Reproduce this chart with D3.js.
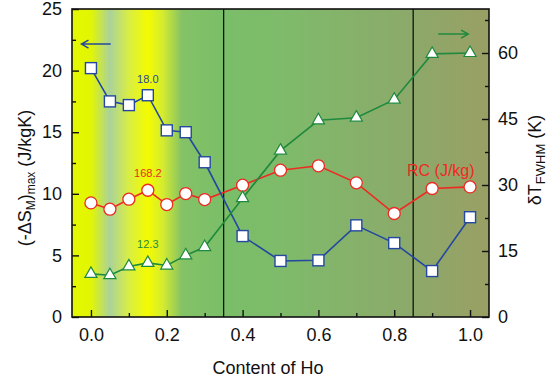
<!DOCTYPE html>
<html><head><meta charset="utf-8">
<script src="https://cdn.jsdelivr.net/npm/d3@7"></script>
<style>
html,body{margin:0;padding:0;background:#fff;}
text{font-family:"Liberation Sans",Arial,Helvetica,sans-serif;}
</style></head>
<body>
<svg id="c" width="551" height="382"></svg>
<script>
// ---- data ----
const hoContent = [0, 0.05, 0.1, 0.15, 0.2, 0.25, 0.3, 0.4, 0.5, 0.6, 0.7, 0.8, 0.9, 1.0];
const deltaSM = [20.2, 17.5, 17.2, 18.0, 15.15, 15.0, 12.56, 6.57, 4.55, 4.6, 7.44, 6.0, 3.73, 8.1];
const rcValues = [151.4, 143.0, 156.3, 168.2, 149.2, 163.8, 155.8, 174.9, 194.8, 200.6, 178.0, 137.3, 170.5, 172.6];
const deltaTFWHM = [9.8, 9.5, 11.5, 12.3, 11.7, 14.0, 15.9, 27.0, 37.8, 44.7, 45.3, 49.4, 59.8, 60.0];
const xTicks = [0, 0.2, 0.4, 0.6, 0.8, 1.0];
const xMinorTicks = [0.1, 0.3, 0.5, 0.7, 0.9];
const leftTicks = [0, 5, 10, 15, 20, 25];
const leftMinor = [2.5, 7.5, 12.5, 17.5, 22.5];
const rightTicks = [0, 15, 30, 45, 60];
const rightMinor = [7.5, 22.5, 37.5, 52.5, 67.5];
const phaseBoundaries = [0.35, 0.85];
const bgStops = [
  [-0.05, "#e4f800"], [0.0, "#e2f604"], [0.05, "#aad29a"], [0.1, "#d8ee44"],
  [0.15, "#f4fb00"], [0.19, "#d4ec30"], [0.24, "#84c266"], [0.35, "#7abe68"],
  [0.5, "#7ebb6a"], [0.85, "#8ca96a"], [1.05, "#9a9f64"]
];

const svg = d3.select("#c");
const L = 72, R = 489, T = 9, B = 317;
const x = d3.scaleLinear().domain([-0.05, 1.05]).range([L, R]);
const yL = d3.scaleLinear().domain([0, 25]).range([B, T]);
const yR = d3.scaleLinear().domain([0, 70]).range([B, T]);
const yRC = d3.scaleLinear().domain([0, 25 * 168.2 / 10.29]).range([B, T]);

// background gradient
const defs = svg.append("defs");
const grad = defs.append("linearGradient").attr("id", "bg")
  .attr("gradientUnits", "userSpaceOnUse")
  .attr("x1", x(-0.05)).attr("x2", x(1.05)).attr("y1", 0).attr("y2", 0);
bgStops.forEach(s => grad.append("stop")
  .attr("offset", (x(s[0]) - L) / (R - L)).attr("stop-color", s[1]));
svg.append("rect").attr("x", L).attr("y", T).attr("width", R - L).attr("height", B - T)
  .attr("fill", "url(#bg)");

// phase boundary lines
svg.selectAll(".pb").data(phaseBoundaries).enter().append("line")
  .attr("x1", d => x(d)).attr("x2", d => x(d)).attr("y1", T).attr("y2", B)
  .attr("stroke", "#111").attr("stroke-width", 1.3);

// axes
const fs = 18;
const bottomAxis = d3.axisBottom(x).tickValues(xTicks).tickFormat(d3.format(".1f"))
  .tickSizeInner(-7).tickSizeOuter(0).tickPadding(11);
const gB = svg.append("g").attr("transform", `translate(0,${B})`).call(bottomAxis);
const gBm = svg.append("g").attr("transform", `translate(0,${B})`)
  .call(d3.axisBottom(x).tickValues(xMinorTicks).tickFormat("").tickSizeInner(-4).tickSizeOuter(0));
const leftAxis = d3.axisLeft(yL).tickValues(leftTicks).tickSizeInner(-7).tickSizeOuter(0).tickPadding(10);
const gL = svg.append("g").attr("transform", `translate(${L},0)`).call(leftAxis);
const gLm = svg.append("g").attr("transform", `translate(${L},0)`)
  .call(d3.axisLeft(yL).tickValues(leftMinor).tickFormat("").tickSizeInner(-4).tickSizeOuter(0));
const rightAxis = d3.axisRight(yR).tickValues(rightTicks).tickSizeInner(-7).tickSizeOuter(0).tickPadding(9);
const gR = svg.append("g").attr("transform", `translate(${R},0)`).call(rightAxis);
const gRm = svg.append("g").attr("transform", `translate(${R},0)`)
  .call(d3.axisRight(yR).tickValues(rightMinor).tickFormat("").tickSizeInner(-4).tickSizeOuter(0));
[gB, gBm, gL, gLm, gR, gRm].forEach(g => {
  g.select(".domain").remove();
  g.selectAll("line").attr("stroke", "#111").attr("stroke-width", 1.4);
  g.selectAll("text").attr("font-size", fs).attr("fill", "#111")
    .attr("font-family", "Liberation Sans, Arial, sans-serif");
});
// frame
svg.append("rect").attr("x", L).attr("y", T).attr("width", R - L).attr("height", B - T)
  .attr("fill", "none").attr("stroke", "#111").attr("stroke-width", 1.6);

// series
const blue = "#2448a0", red = "#ee2a22", green = "#1f8a3e";
const idx = d3.range(hoContent.length);
const lineGen = (ys, scale) => d3.line().x(i => x(hoContent[i])).y(i => scale(ys[i]));

// red RC
svg.append("path").attr("d", lineGen(rcValues, yRC)(idx)).attr("fill", "none")
  .attr("stroke", red).attr("stroke-width", 1.6);
svg.selectAll(".rc").data(idx).enter().append("circle")
  .attr("cx", i => x(hoContent[i])).attr("cy", i => yRC(rcValues[i])).attr("r", 6)
  .attr("fill", "#fff").attr("stroke", red).attr("stroke-width", 1.3);

// blue dS
svg.append("path").attr("d", lineGen(deltaSM, yL)(idx)).attr("fill", "none")
  .attr("stroke", blue).attr("stroke-width", 1.6);
svg.selectAll(".sq").data(idx).enter().append("rect")
  .attr("x", i => x(hoContent[i]) - 5.5).attr("y", i => yL(deltaSM[i]) - 5.5)
  .attr("width", 11).attr("height", 11)
  .attr("fill", "#fff").attr("stroke", blue).attr("stroke-width", 1.4);

// green dT
svg.append("path").attr("d", lineGen(deltaTFWHM, yR)(idx)).attr("fill", "none")
  .attr("stroke", green).attr("stroke-width", 1.6);
const tri = d3.symbol().type(d3.symbolTriangle).size(64);
svg.selectAll(".tr").data(idx).enter().append("path")
  .attr("d", tri)
  .attr("transform", i => `translate(${x(hoContent[i])},${yR(deltaTFWHM[i])})`)
  .attr("fill", "#fff").attr("stroke", green).attr("stroke-width", 1.2);

// annotations
const i15 = hoContent.indexOf(0.15);
svg.append("text").attr("x", x(0.15)).attr("y", yL(deltaSM[i15]) - 12)
  .attr("text-anchor", "middle").attr("font-size", 11).attr("fill", blue)
  .text(deltaSM[i15].toFixed(1));
svg.append("text").attr("x", x(0.15)).attr("y", yRC(rcValues[i15]) - 13)
  .attr("text-anchor", "middle").attr("font-size", 11).attr("fill", red)
  .text(rcValues[i15].toFixed(1));
svg.append("text").attr("x", x(0.15)).attr("y", yR(deltaTFWHM[i15]) - 15)
  .attr("text-anchor", "middle").attr("font-size", 11).attr("fill", green)
  .text(deltaTFWHM[i15].toFixed(1));
svg.append("text").attr("x", x(1.012)).attr("y", yRC(187)).attr("text-anchor", "end")
  .attr("font-size", 16).attr("fill", red).text("RC (J/kg)");

// arrows
function arrow(x1, x2, yy, color) {
  const dir = Math.sign(x2 - x1);
  const p = d3.path();
  p.moveTo(x1, yy); p.lineTo(x2, yy);
  p.moveTo(x2 - dir * 7, yy - 4); p.lineTo(x2, yy); p.lineTo(x2 - dir * 7, yy + 4);
  svg.append("path").attr("d", p.toString()).attr("fill", "none")
    .attr("stroke", color).attr("stroke-width", 1.5);
}
arrow(x(0.052), x(-0.025), yL(22.15), blue);
arrow(x(0.916), x(0.995), yR(64.3), green);

// axis titles
svg.append("text").attr("x", 268).attr("y", 374).attr("text-anchor", "middle")
  .attr("font-size", 18).attr("fill", "#111").text("Content of Ho");

const lt = svg.append("text").attr("transform", "translate(31,178) rotate(-90)")
  .attr("text-anchor", "middle").attr("font-size", 18).attr("fill", "#111");
lt.append("tspan").text("(-ΔS");
lt.append("tspan").attr("font-size", 12).attr("dy", 4).text("M");
lt.append("tspan").attr("dy", -4).text(")");
lt.append("tspan").attr("font-size", 12).attr("dy", 4).text("max");
lt.append("tspan").attr("dy", -4).text(" (J/kgK)");

const rt = svg.append("text").attr("transform", "translate(541,160) rotate(-90)")
  .attr("text-anchor", "middle").attr("font-size", 18).attr("fill", "#111");
rt.append("tspan").text("δT");
rt.append("tspan").attr("font-size", 13).attr("dy", 4).text("FWHM");
rt.append("tspan").attr("dy", -4).text(" (K)");
</script>
</body></html>
